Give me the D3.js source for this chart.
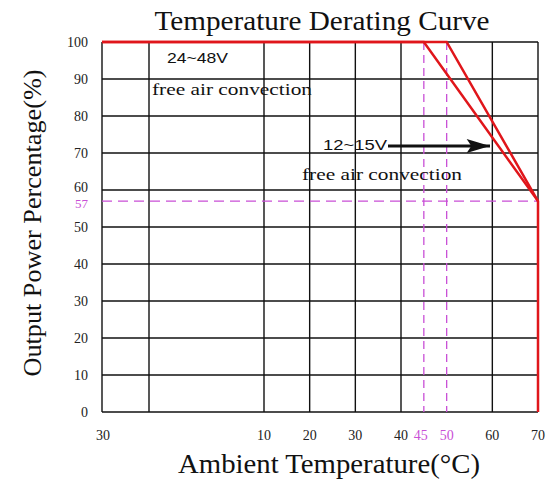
<!DOCTYPE html>
<html>
<head>
<meta charset="utf-8">
<script src="https://cdn.jsdelivr.net/npm/d3@7"></script>
<style>
  body { margin: 0; background: #fff; }
  svg { display: block; }
</style>
</head>
<body>
<div id="chart"></div>
<script>
// grid columns (broken axis on the left side)
var xGrid = [-30, -20, 10, 20, 30, 40, 60, 70];
var xTicks = [-30, 10, 20, 30, 40, 60, 70];
var xTickLabels = ["30", "10", "20", "30", "40", "60", "70"];
var yTicks = [0, 10, 20, 30, 40, 50, 60, 70, 80, 90, 100];

// derating curves: [temperature, load %]
var curve2448 = [[-30, 100], [45, 100], [70, 57], [70, 0]];
var curve1215 = [[-30, 100], [50, 100], [70, 57]];

// marked values
var markTemps = [45, 50];
var markLoad = 57;

var width = 557, height = 481;

var svg = d3.select("#chart").append("svg")
    .attr("width", width)
    .attr("height", height);

// piecewise scale: -30..-20 and -20..10 are squeezed
var x = d3.scaleLinear()
    .domain([-30, -20, 10, 70])
    .range([102, 149, 264, 538]);

var y = d3.scaleLinear()
    .domain([0, 100])
    .range([412, 42]);

var serif = "'Liberation Serif', 'Times New Roman', serif";
var sans = "'Liberation Sans', Arial, sans-serif";

// grid
svg.append("g").selectAll("line.v")
    .data(xGrid)
    .enter().append("line")
    .attr("x1", d => x(d)).attr("x2", d => x(d))
    .attr("y1", y(100)).attr("y2", y(0))
    .attr("stroke", "#111").attr("stroke-width", 1.4);

svg.append("g").selectAll("line.h")
    .data(yTicks)
    .enter().append("line")
    .attr("x1", x(-30)).attr("x2", x(70))
    .attr("y1", d => y(d)).attr("y2", d => y(d))
    .attr("stroke", "#111").attr("stroke-width", 1.4);

// magenta dashed markers
var magenta = "#c94fd6";
svg.append("g").selectAll("line")
    .data(markTemps)
    .enter().append("line")
    .attr("x1", d => x(d)).attr("x2", d => x(d))
    .attr("y1", y(100)).attr("y2", y(0))
    .attr("stroke", magenta).attr("stroke-width", 1.3)
    .attr("stroke-dasharray", "8,5");

svg.append("line")
    .attr("x1", x(-30)).attr("x2", x(70))
    .attr("y1", y(markLoad)).attr("y2", y(markLoad))
    .attr("stroke", magenta).attr("stroke-width", 1.3)
    .attr("stroke-dasharray", "10,6");

// curves
var line = d3.line().x(d => x(d[0])).y(d => y(d[1]));
[curve2448, curve1215].forEach(function (c) {
    svg.append("path")
        .attr("d", line(c))
        .attr("fill", "none")
        .attr("stroke", "#e0161b")
        .attr("stroke-width", 2.5)
        .attr("stroke-linejoin", "miter");
});

// y tick labels
svg.append("g").selectAll("text")
    .data(yTicks)
    .enter().append("text")
    .attr("x", 88)
    .attr("y", d => y(d) + (d === 60 ? 2 : 5))
    .attr("text-anchor", "end")
    .attr("font-family", serif)
    .attr("font-size", 14)
    .attr("fill", "#222")
    .text(d => d);

svg.append("text")
    .attr("x", 88).attr("y", y(markLoad) + 7)
    .attr("text-anchor", "end")
    .attr("font-family", serif).attr("font-size", 13)
    .attr("fill", magenta)
    .text(markLoad);

// x tick labels
svg.append("g").selectAll("text")
    .data(xTicks)
    .enter().append("text")
    .attr("x", d => x(d) + (d === -30 ? 1 : 0))
    .attr("y", 440)
    .attr("text-anchor", "middle")
    .attr("font-family", serif)
    .attr("font-size", 14)
    .attr("fill", "#222")
    .text((d, i) => xTickLabels[i]);

svg.append("g").selectAll("text")
    .data(markTemps)
    .enter().append("text")
    .attr("x", d => x(d) - (d === 45 ? 3 : 0))
    .attr("y", 440)
    .attr("text-anchor", "middle")
    .attr("font-family", serif)
    .attr("font-size", 14)
    .attr("fill", magenta)
    .text(d => d);

// titles
svg.append("text")
    .attr("x", 322).attr("y", 30)
    .attr("text-anchor", "middle")
    .attr("font-family", serif).attr("font-size", 27)
    .attr("textLength", 335).attr("lengthAdjust", "spacingAndGlyphs")
    .attr("fill", "#111")
    .text("Temperature Derating Curve");

svg.append("text")
    .attr("x", 329).attr("y", 473)
    .attr("text-anchor", "middle")
    .attr("font-family", serif).attr("font-size", 27)
    .attr("textLength", 302).attr("lengthAdjust", "spacingAndGlyphs")
    .attr("fill", "#111")
    .text("Ambient Temperature(°C)");

svg.append("text")
    .attr("transform", "translate(41,223) rotate(-90)")
    .attr("text-anchor", "middle")
    .attr("font-family", serif).attr("font-size", 25)
    .attr("textLength", 307).attr("lengthAdjust", "spacingAndGlyphs")
    .attr("fill", "#111")
    .text("Output Power Percentage(%)");

// annotations
svg.append("text")
    .attr("x", 167).attr("y", 63)
    .attr("font-family", sans).attr("font-size", 15)
    .attr("textLength", 61).attr("lengthAdjust", "spacingAndGlyphs")
    .attr("fill", "#111")
    .text("24~48V");

svg.append("text")
    .attr("x", 152).attr("y", 95)
    .attr("font-family", serif).attr("font-size", 17)
    .attr("textLength", 160).attr("lengthAdjust", "spacingAndGlyphs")
    .attr("fill", "#111")
    .text("free air convection");

svg.append("text")
    .attr("x", 323).attr("y", 150)
    .attr("font-family", sans).attr("font-size", 15)
    .attr("textLength", 64).attr("lengthAdjust", "spacingAndGlyphs")
    .attr("fill", "#111")
    .text("12~15V");

svg.append("text")
    .attr("x", 302).attr("y", 180)
    .attr("font-family", serif).attr("font-size", 17)
    .attr("textLength", 160).attr("lengthAdjust", "spacingAndGlyphs")
    .attr("fill", "#111")
    .text("free air convection");

// arrow to the 12~15V curve
svg.append("defs").append("marker")
    .attr("id", "arrow")
    .attr("viewBox", "0 0 10 6")
    .attr("refX", 10).attr("refY", 3)
    .attr("markerWidth", 10).attr("markerHeight", 5)
    .attr("markerUnits", "strokeWidth")
    .attr("orient", "auto")
    .append("path")
    .attr("d", "M0,0 L10,3 L0,6 L2,3 Z")
    .attr("fill", "#111");

svg.append("line")
    .attr("x1", 388).attr("x2", 490)
    .attr("y1", 146).attr("y2", 146)
    .attr("stroke", "#111").attr("stroke-width", 2.8)
    .attr("marker-end", "url(#arrow)");
</script>
</body>
</html>
